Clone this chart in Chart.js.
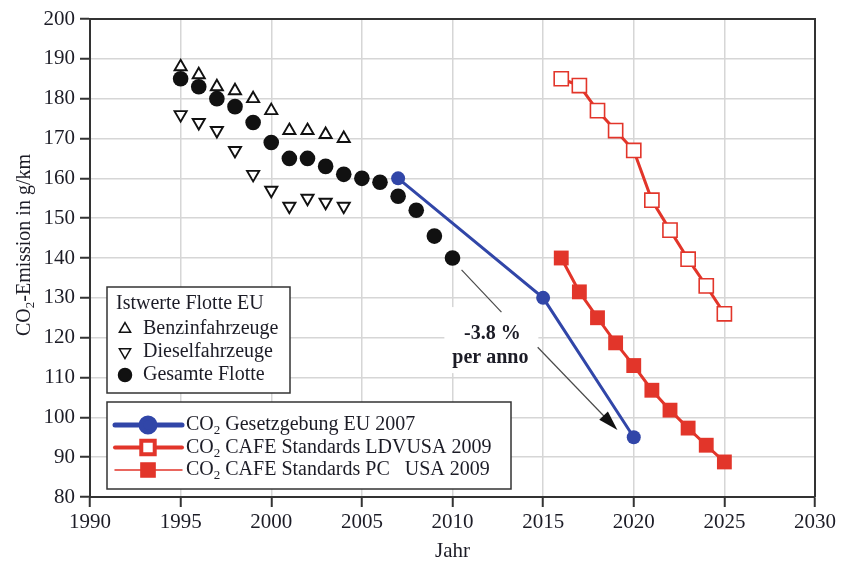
<!DOCTYPE html>
<html lang="de">
<head>
<meta charset="utf-8">
<title>CO2-Emission in g/km</title>
<script src="https://cdn.jsdelivr.net/npm/chart.js@4.4.1/dist/chart.umd.min.js"></script>
<style>
  html, body { margin: 0; padding: 0; background: #fff; }
  canvas { display: block; }
</style>
</head>
<body>
<canvas id="co2Chart" width="841" height="562"></canvas>
<script>
// Istwerte Flotte EU
const actualYears = [1995, 1996, 1997, 1998, 1999, 2000, 2001, 2002, 2003, 2004];
const petrolCars = [188, 186, 183, 182, 180, 177, 172, 172, 171, 170];
const dieselCars = [176, 174, 172, 167, 161, 157, 153, 155, 154, 153];

const fleetYears = [1995, 1996, 1997, 1998, 1999, 2000, 2001, 2002, 2003, 2004, 2005, 2006, 2007, 2008, 2009, 2010];
const fleetTotal = [185, 183, 180, 178, 174, 169, 165, 165, 163, 161, 160, 159, 155.5, 152, 145.5, 140];

// Gesetzgebung / Standards
const euYears = [2007, 2015, 2020];
const euTarget = [160, 130, 95];

const usYears = [2016, 2017, 2018, 2019, 2020, 2021, 2022, 2023, 2024, 2025];
const cafeLdv = [185, 183.3, 177, 172, 167, 154.5, 147, 139.7, 133, 126];
const cafePc = [140, 131.5, 125, 118.7, 113, 106.8, 101.8, 97.3, 93, 88.8];

// Achsen
const xTicks = [1990, 1995, 2000, 2005, 2010, 2015, 2020, 2025, 2030];
const yTicks = [80, 90, 100, 110, 120, 130, 140, 150, 160, 170, 180, 190, 200];

const BLUE = '#3146a8';
const RED = '#e2352a';
const INK = '#1c1c26';
const SERIF = '"Liberation Serif", "Times New Roman", serif';

function toPoints(xs, ys) {
    return xs.map((x, i) => ({ x: x, y: ys[i] }));
}

// "CO" with a lowered subscript 2, followed by the rest of the text
function drawCO2(ctx, rest, x, y, size) {
    ctx.font = size + 'px ' + SERIF;
    ctx.fillText('CO', x, y);
    let w = ctx.measureText('CO').width;
    ctx.font = Math.round(size * 0.65) + 'px ' + SERIF;
    ctx.fillText('2', x + w, y + size * 0.3);
    w += ctx.measureText('2').width;
    ctx.font = size + 'px ' + SERIF;
    ctx.fillText(rest, x + w, y);
}

function drawArrowLine(ctx, x1, y1, x2, y2, head) {
    ctx.save();
    ctx.strokeStyle = '#4a4a4a';
    ctx.lineWidth = 1.2;
    const ang = Math.atan2(y2 - y1, x2 - x1);
    const endX = head ? x2 - Math.cos(ang) * 14 : x2;
    const endY = head ? y2 - Math.sin(ang) * 14 : y2;
    ctx.beginPath();
    ctx.moveTo(x1, y1);
    ctx.lineTo(endX, endY);
    ctx.stroke();
    if (head) {
        ctx.fillStyle = '#111';
        ctx.beginPath();
        ctx.moveTo(x2, y2);
        ctx.lineTo(x2 - Math.cos(ang) * 20 + Math.sin(ang) * 6, y2 - Math.sin(ang) * 20 - Math.cos(ang) * 6);
        ctx.lineTo(x2 - Math.cos(ang) * 20 - Math.sin(ang) * 6, y2 - Math.sin(ang) * 20 + Math.cos(ang) * 6);
        ctx.closePath();
        ctx.fill();
    }
    ctx.restore();
}

const framePlugin = {
    id: 'frameAndNotes',
    beforeDatasetsDraw(chart) {
        const ctx = chart.ctx;
        const a = chart.chartArea;
        const xs = chart.scales.x;
        const ys = chart.scales.y;
        ctx.save();

        // top and right edge of the plot frame
        ctx.strokeStyle = '#333';
        ctx.lineWidth = 2;
        ctx.beginPath();
        ctx.moveTo(a.left, a.top);
        ctx.lineTo(a.right, a.top);
        ctx.lineTo(a.right, a.bottom);
        ctx.stroke();

        // rate annotation
        const tx = xs.getPixelForValue(2012.2);
        const ty = ys.getPixelForValue(120.9);
        ctx.fillStyle = '#fff';
        ctx.fillRect(tx - 48, ty - 27, 94, 66);

        drawArrowLine(ctx, xs.getPixelForValue(2010.5), ys.getPixelForValue(137.0),
            xs.getPixelForValue(2012.7), ys.getPixelForValue(126.4), false);
        drawArrowLine(ctx, xs.getPixelForValue(2014.7), ys.getPixelForValue(117.6),
            xs.getPixelForValue(2019.1), ys.getPixelForValue(96.8), true);

        ctx.fillStyle = INK;
        ctx.font = 'bold 20px ' + SERIF;
        ctx.textAlign = 'center';
        ctx.textBaseline = 'middle';
        ctx.fillText('-3.8 %', tx, ty);
        ctx.fillText('per anno', tx - 2, ty + 24);
        ctx.restore();
    },
    afterDraw(chart) {
        const ctx = chart.ctx;
        const draw = Chart.helpers.drawPoint;
        ctx.save();
        ctx.textBaseline = 'middle';
        ctx.textAlign = 'left';

        // y axis title
        ctx.save();
        ctx.translate(25, 245);
        ctx.rotate(-Math.PI / 2);
        ctx.fillStyle = INK;
        const titleRest = '-Emission in g/km';
        ctx.font = '20px ' + SERIF;
        const wCO = ctx.measureText('CO').width;
        ctx.font = '13px ' + SERIF;
        const w2 = ctx.measureText('2').width;
        ctx.font = '20px ' + SERIF;
        const wRest = ctx.measureText(titleRest).width;
        drawCO2(ctx, titleRest, -(wCO + w2 + wRest) / 2, 0, 20);
        ctx.restore();

        // legend: measured values
        ctx.fillStyle = '#fff';
        ctx.strokeStyle = '#333';
        ctx.lineWidth = 1.5;
        ctx.fillRect(107, 287, 183, 106);
        ctx.strokeRect(107, 287, 183, 106);

        ctx.fillStyle = INK;
        ctx.font = '20px ' + SERIF;
        ctx.fillText('Istwerte Flotte EU', 116, 304);

        const measured = [
            { label: 'Benzinfahrzeuge', style: 'triangle', rotation: 0, fill: '#fff', radius: 6.5 },
            { label: 'Dieselfahrzeuge', style: 'triangle', rotation: 180, fill: '#fff', radius: 6.5 },
            { label: 'Gesamte Flotte', style: 'circle', rotation: 0, fill: '#111', radius: 6.5 }
        ];
        measured.forEach((m, i) => {
            const y = 329 + i * 23;
            ctx.fillStyle = m.fill;
            ctx.strokeStyle = '#111';
            draw(ctx, { pointStyle: m.style, radius: m.radius, rotation: m.rotation, borderWidth: 1.8 }, 125, y);
            ctx.fillStyle = INK;
            ctx.font = '20px ' + SERIF;
            ctx.fillText(m.label, 143, y);
        });

        // legend: targets
        ctx.fillStyle = '#fff';
        ctx.strokeStyle = '#333';
        ctx.lineWidth = 1.5;
        ctx.fillRect(107, 402, 404, 87);
        ctx.strokeRect(107, 402, 404, 87);

        const targets = [
            { rest: ' Gesetzgebung EU 2007', color: BLUE, width: 5, style: 'circle', fill: BLUE, radius: 7 },
            { rest: ' CAFE Standards LDVUSA 2009', color: RED, width: 4, style: 'rect', fill: '#fff', radius: 9.5 },
            { rest: ' CAFE Standards PC   USA 2009', color: RED, width: 1.5, style: 'rect', fill: RED, radius: 10 }
        ];
        targets.forEach((t, i) => {
            const y = 425 + i * 22.5;
            ctx.strokeStyle = t.color;
            ctx.lineWidth = t.width;
            ctx.lineCap = 'round';
            ctx.beginPath();
            ctx.moveTo(115, y);
            ctx.lineTo(182, y);
            ctx.stroke();
            ctx.fillStyle = t.fill;
            ctx.strokeStyle = t.color;
            draw(ctx, { pointStyle: t.style, radius: t.radius, rotation: 0, borderWidth: 1.6 }, 148, y);
            ctx.fillStyle = INK;
            drawCO2(ctx, t.rest, 186, y, 20);
        });

        ctx.restore();
    }
};

const ctx = document.getElementById('co2Chart').getContext('2d');
const chart = new Chart(ctx, {
    type: 'line',
    data: {
        datasets: [
            {
                label: 'CO2 Gesetzgebung EU 2007',
                data: toPoints(euYears, euTarget),
                borderColor: BLUE,
                backgroundColor: BLUE,
                borderWidth: 3,
                pointStyle: 'circle',
                pointRadius: 7,
                pointBorderWidth: 0
            },
            {
                label: 'CO2 CAFE Standards LDVUSA 2009',
                data: toPoints(usYears, cafeLdv),
                borderColor: RED,
                backgroundColor: '#fff',
                borderWidth: 3,
                pointStyle: 'rect',
                pointRadius: 10,
                pointBorderWidth: 1.6,
                pointBorderColor: RED
            },
            {
                label: 'CO2 CAFE Standards PC USA 2009',
                data: toPoints(usYears, cafePc),
                borderColor: RED,
                backgroundColor: RED,
                borderWidth: 3,
                pointStyle: 'rect',
                pointRadius: 10.5,
                pointBorderWidth: 0
            },
            {
                label: 'Benzinfahrzeuge',
                data: toPoints(actualYears, petrolCars),
                showLine: false,
                pointStyle: 'triangle',
                pointRadius: 7,
                pointBorderWidth: 1.9,
                pointBorderColor: '#111',
                pointBackgroundColor: '#fff'
            },
            {
                label: 'Dieselfahrzeuge',
                data: toPoints(actualYears, dieselCars),
                showLine: false,
                pointStyle: 'triangle',
                pointRotation: 180,
                pointRadius: 7,
                pointBorderWidth: 1.9,
                pointBorderColor: '#111',
                pointBackgroundColor: '#fff'
            },
            {
                label: 'Gesamte Flotte',
                data: toPoints(fleetYears, fleetTotal),
                showLine: false,
                pointStyle: 'circle',
                pointRadius: 7.8,
                pointBorderWidth: 0,
                pointBackgroundColor: '#111'
            }
        ]
    },
    options: {
        responsive: false,
        animation: false,
        layout: { padding: { top: 19, right: 26, left: 0, bottom: 0 } },
        plugins: {
            legend: { display: false },
            tooltip: { enabled: false }
        },
        elements: { line: { tension: 0 } },
        scales: {
            x: {
                type: 'linear',
                min: 1990,
                max: 2030,
                afterFit(scale) { scale.height = 65; },
                afterBuildTicks(scale) { scale.ticks = xTicks.map(v => ({ value: v })); },
                ticks: {
                    color: INK,
                    padding: 3,
                    font: { family: SERIF, size: 21 },
                    callback: v => String(v)
                },
                grid: { color: '#d6d6d6', lineWidth: 1.5, tickColor: '#333', tickLength: 10, tickWidth: 2 },
                border: { color: '#333', width: 2 },
                title: {
                    display: true,
                    text: 'Jahr',
                    color: INK,
                    font: { family: SERIF, size: 21, lineHeight: 1 },
                    padding: { top: 0, bottom: 0 }
                }
            },
            y: {
                type: 'linear',
                min: 80,
                max: 200,
                afterFit(scale) { scale.width = 90; },
                afterBuildTicks(scale) { scale.ticks = yTicks.map(v => ({ value: v })); },
                ticks: {
                    color: INK,
                    padding: 5,
                    font: { family: SERIF, size: 21 },
                    callback: v => String(v)
                },
                grid: { color: '#d6d6d6', lineWidth: 1.5, tickColor: '#333', tickLength: 10, tickWidth: 2 },
                border: { color: '#333', width: 2 }
            }
        }
    },
    plugins: [framePlugin]
});
</script>
</body>
</html>
